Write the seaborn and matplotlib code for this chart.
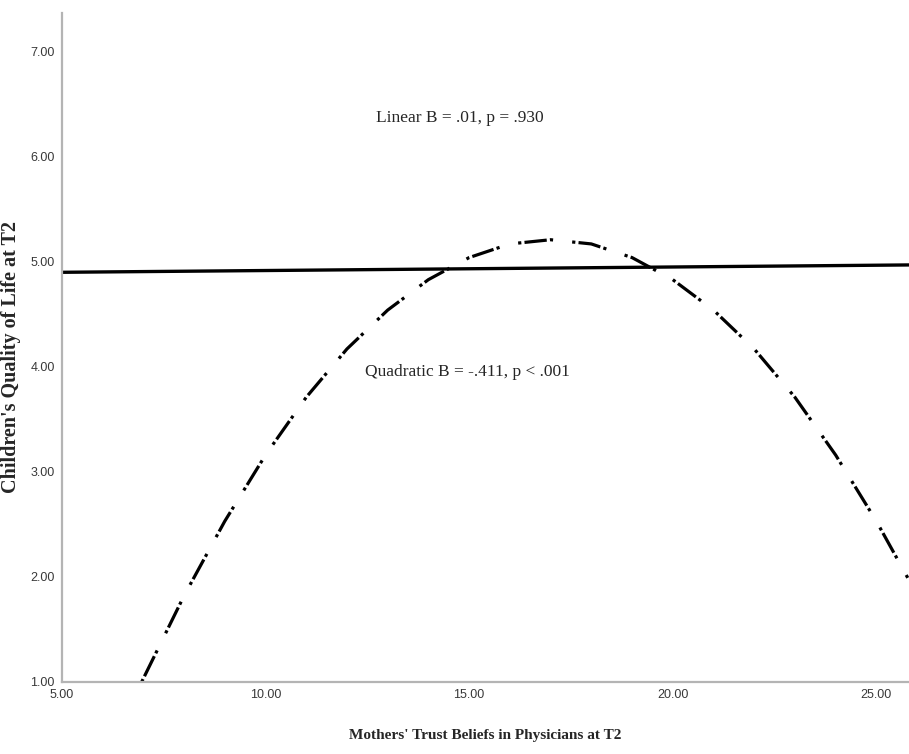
import matplotlib
matplotlib.use("Agg")
import matplotlib.pyplot as plt
import pandas as pd
import seaborn as sns

# values
linear_x = [5.0, 25.8]
linear_y = [4.90, 4.97]

quad_x = [6.96, 8, 9, 10, 11, 12, 13, 14, 15, 16, 17, 18, 19, 20, 21, 22, 23, 24, 25, 25.8]
quad_y = [1.00, 1.82, 2.53, 3.16, 3.71, 4.17, 4.54, 4.83, 5.04, 5.17, 5.21,
          5.17, 5.04, 4.83, 4.54, 4.17, 3.71, 3.16, 2.53, 1.97]

x_ticks = [5, 10, 15, 20, 25]
y_ticks = [1, 2, 3, 4, 5, 6, 7]

linear_note = "Linear B = .01, p = .930"
quad_note = "Quadratic B = -.411, p < .001"

sns.set_style("white")
plt.rcParams['font.family'] = ['Liberation Serif', 'DejaVu Serif']

lin_df = pd.DataFrame({'x': linear_x, 'y': linear_y})
quad_df = pd.DataFrame({'x': quad_x, 'y': quad_y})

fig = plt.figure(figsize=(9.09, 7.54), dpi=100)
ax = fig.add_axes([0.068, 0.0955, 0.932, 0.8875])

sns.lineplot(data=lin_df, x='x', y='y', ax=ax, color='black', linewidth=2.4)
sns.lineplot(data=quad_df, x='x', y='y', ax=ax, color='black', linewidth=2.3,
             linestyle=(0, (1, 1, 7, 1, 1, 6)))
for ln in ax.lines:
    ln.set_solid_capstyle('butt')
    ln.set_dash_capstyle('butt')

ax.set_xlim(5, 25.8)
ax.set_ylim(1, 7.37)
ax.set_xticks(x_ticks)
ax.set_yticks(y_ticks)
ax.set_xticklabels([f"{t:.2f}" for t in x_ticks])
ax.set_yticklabels([f"{t:.2f}" for t in y_ticks])
ax.tick_params(length=0, pad=5, labelsize=9, labelcolor='#383838')
for lab in ax.get_xticklabels() + ax.get_yticklabels():
    lab.set_family('Liberation Sans')

for side in ['top', 'right']:
    ax.spines[side].set_visible(False)
for side in ['left', 'bottom']:
    ax.spines[side].set_color('#b4b4b4')
    ax.spines[side].set_linewidth(1.6)

ax.set_xlabel("Mothers' Trust Beliefs in Physicians at T2", fontsize=11, fontweight='bold')
ax.set_ylabel("Children's Quality of Life at T2", fontsize=14.5, fontweight='bold')
ax.xaxis.set_label_coords(0.5, -0.07)
ax.yaxis.set_label_coords(-0.048, 0.485)

ax.text(14.78, 6.37, linear_note, ha='center', va='center', fontsize=12.5)
ax.text(14.95, 3.95, quad_note, ha='center', va='center', fontsize=12.5)

fig.savefig("out.png", dpi=100)
